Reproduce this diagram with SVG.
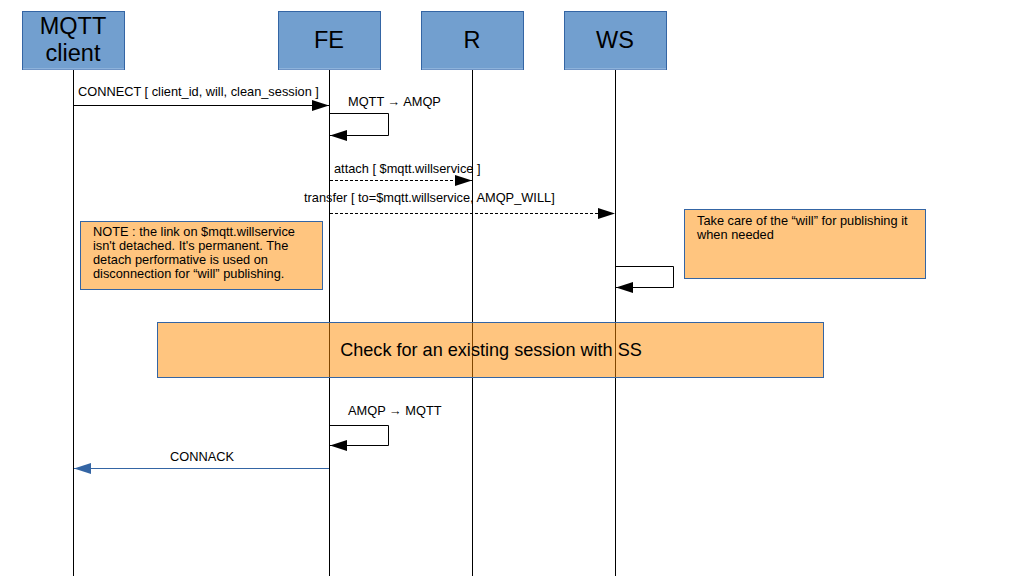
<svg xmlns="http://www.w3.org/2000/svg" width="1024" height="576" viewBox="0 0 1024 576">
<defs>
<style>
.actor rect{fill:#729fcf;stroke:#3465a4;stroke-width:1}
.actor text{font-family:"Liberation Sans",Arial,sans-serif;font-size:23.5px;fill:#000;text-anchor:middle}
.life{stroke:#000;stroke-width:1}
.msg{stroke:#000;stroke-width:1;fill:none}
.dash{stroke-dasharray:3,2}
.lbl{font-family:"Liberation Sans",Arial,sans-serif;font-size:12.8px;fill:#000}
.note{fill:#ff8c00;fill-opacity:0.5;stroke:#3465a4;stroke-width:1}
</style>
<marker id="ah" markerWidth="17" markerHeight="11" refX="17" refY="5.5" orient="auto" markerUnits="userSpaceOnUse"><path d="M0,0 L17,5.5 L0,11 Z" fill="#000"/></marker>
<marker id="ahb" markerWidth="17" markerHeight="11" refX="17" refY="5.5" orient="auto" markerUnits="userSpaceOnUse"><path d="M0,0 L17,5.5 L0,11 Z" fill="#3465a4"/></marker>
</defs>
<rect width="1024" height="576" fill="#fff"/>
<g id="mqtt-client" class="actor">
<rect x="22.5" y="11.5" width="102" height="58"/>
<line x1="23" y1="69" x2="124" y2="69" stroke="#a9c4e6"/>
<text x="73" y="34">MQTT</text>
<text x="73" y="61">client</text>
<line class="life" x1="73.5" y1="70" x2="73.5" y2="576"/>
</g>
<g id="fe" class="actor">
<rect x="278.5" y="11.5" width="102" height="58"/>
<line x1="279" y1="69" x2="380" y2="69" stroke="#a9c4e6"/>
<text x="329" y="48">FE</text>
<line class="life" x1="329.5" y1="70" x2="329.5" y2="576"/>
</g>
<g id="r" class="actor">
<rect x="421.5" y="11.5" width="102" height="58"/>
<line x1="422" y1="69" x2="523" y2="69" stroke="#a9c4e6"/>
<text x="472" y="48">R</text>
<line class="life" x1="472.5" y1="70" x2="472.5" y2="576"/>
</g>
<g id="ws" class="actor">
<rect x="564.5" y="11.5" width="102" height="58"/>
<line x1="565" y1="69" x2="666" y2="69" stroke="#a9c4e6"/>
<text x="615" y="48">WS</text>
<line class="life" x1="615.5" y1="70" x2="615.5" y2="576"/>
</g>
<g id="connectors">
<line class="msg" x1="73.5" y1="105.5" x2="329" y2="105.5" marker-end="url(#ah)"/>
<text class="lbl" x="78" y="96">CONNECT [ client_id, will, clean_session ]</text>
<polyline class="msg" points="330,113.5 388.5,113.5 388.5,135.5 330,135.5" marker-end="url(#ah)"/>
<text class="lbl" x="348" y="106">MQTT → AMQP</text>
<line class="msg dash" x1="330" y1="180.5" x2="472" y2="180.5" marker-end="url(#ah)"/>
<text class="lbl" x="334" y="173">attach [ $mqtt.willservice ]</text>
<line class="msg dash" x1="330" y1="213.5" x2="615" y2="213.5" marker-end="url(#ah)"/>
<text class="lbl" x="304" y="202">transfer [ to=$mqtt.willservice, AMQP_WILL]</text>
<polyline class="msg" points="616,266.5 673.5,266.5 673.5,287.5 616,287.5" marker-end="url(#ah)"/>
<polyline class="msg" points="330,425.5 388.5,425.5 388.5,445.5 330,445.5" marker-end="url(#ah)"/>
<text class="lbl" x="348" y="415">AMQP → MQTT</text>
<line x1="329" y1="468.5" x2="74" y2="468.5" stroke="#3465a4" stroke-width="1" marker-end="url(#ahb)"/>
<text class="lbl" x="170" y="461">CONNACK</text>
</g>
<g id="note-will">
<rect class="note" x="684.5" y="209.5" width="241" height="69"/>
<text class="lbl" x="697" y="225">Take care of the “will” for publishing it</text>
<text class="lbl" x="697" y="239">when needed</text>
</g>
<g id="note-link">
<rect class="note" x="80.5" y="221.5" width="242" height="68"/>
<text class="lbl" x="93" y="236">NOTE : the link on $mqtt.willservice</text>
<text class="lbl" x="93" y="250">isn't detached. It's permanent. The</text>
<text class="lbl" x="93" y="264">detach performative is used on</text>
<text class="lbl" x="93" y="278">disconnection for “will” publishing.</text>
</g>
<g id="check-session">
<rect class="note" x="157.5" y="322.5" width="666" height="55"/>
<text x="491" y="356" font-family="Liberation Sans, Arial, sans-serif" font-size="18.1" text-anchor="middle" fill="#000">Check for an existing session with SS</text>
</g>
</svg>
